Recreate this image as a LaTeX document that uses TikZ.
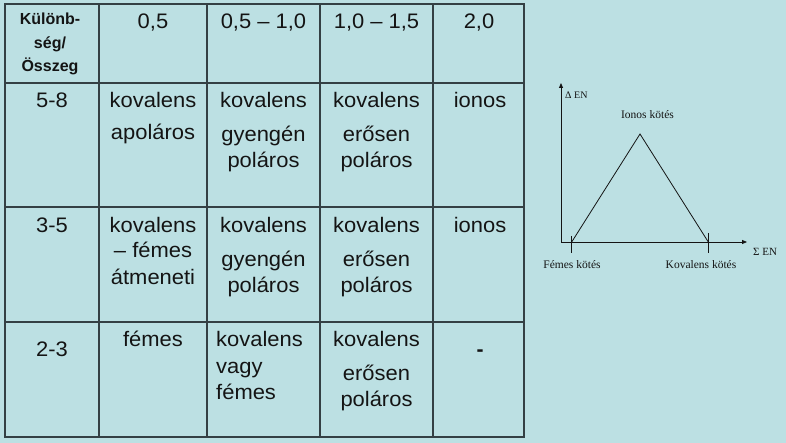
\documentclass[tikz,border=0pt]{standalone}
\usepackage{fontspec}
\setmainfont{Liberation Sans}[FakeStretch=1.045]
\newfontfamily\hdrfont{Liberation Sans}
\newfontfamily\chartfont{Liberation Serif}
\usetikzlibrary{arrows.meta}
\definecolor{bgblue}{RGB}{188,224,227}
\definecolor{gridline}{RGB}{52,64,68}
\definecolor{ink}{RGB}{20,20,20}
\tikzset{
  cell/.style={anchor=base, inner sep=0pt, text=ink, font=\fontsize{21}{25}\selectfont},
  lcell/.style={cell, anchor=base west},
  hdr/.style={anchor=base, inner sep=0pt, text=ink, font=\hdrfont\bfseries\fontsize{16}{19}\selectfont},
  outerline/.style={draw=gridline, line width=2.2pt},
  innerline/.style={draw=gridline, line width=1.6pt},
  axis/.style={draw=ink, line width=0.8pt, -{Triangle[length=5pt,width=4pt]}},
  plotline/.style={draw=ink, line width=0.8pt},
  lbl/.style={inner sep=0pt, text=ink, font=\chartfont\fontsize{11.5}{13}\selectfont}
}
\begin{document}
\begin{tikzpicture}[x=1pt,y=-1pt]
\useasboundingbox (0,0) rectangle (786,443);
\fill[bgblue] (0,0) rectangle (786,443);

% ---- table grid ----
\foreach \xx in {99,207,320,433} {\draw[innerline] (\xx,4) -- (\xx,437);}
\foreach \yy in {83,207,322} {\draw[innerline] (5,\yy) -- (524,\yy);}
\draw[outerline] (5,4) rectangle (524,437);

% ---- header row ----
\node[hdr] (h0a) at (50,25) {Különb-};
\node[hdr] (h0b) at (50,48.5) {ség/};
\node[hdr] (h0c) at (50,72) {Összeg};
\node[cell] (h1) at (153,29) {0,5};
\node[cell] (h2) at (263.5,29) {0,5 – 1,0};
\node[cell] (h3) at (376.5,29) {1,0 – 1,5};
\node[cell] (h4) at (479,29) {2,0};

% ---- row 5-8 ----
\node[cell] (r1c0) at (52,108) {5-8};
\node[cell] (r1c1a) at (153,108) {kovalens};
\node[cell] (r1c1b) at (153,139.5) {apoláros};
\node[cell] (r1c2a) at (263.5,108) {kovalens};
\node[cell] (r1c2b) at (263.5,142) {gyengén};
\node[cell] (r1c2c) at (263.5,168) {poláros};
\node[cell] (r1c3a) at (376.5,108) {kovalens};
\node[cell] (r1c3b) at (376.5,141.5) {erősen};
\node[cell] (r1c3c) at (376.5,168) {poláros};
\node[cell] (r1c4) at (480,108) {ionos};

% ---- row 3-5 ----
\node[cell] (r2c0) at (52,232.7) {3-5};
\node[cell] (r2c1a) at (153,232.7) {kovalens};
\node[cell] (r2c1b) at (153,258) {– fémes};
\node[cell] (r2c1c) at (153,284) {átmeneti};
\node[cell] (r2c2a) at (263.5,232.7) {kovalens};
\node[cell] (r2c2b) at (263.5,266.7) {gyengén};
\node[cell] (r2c2c) at (263.5,292.7) {poláros};
\node[cell] (r2c3a) at (376.5,232.7) {kovalens};
\node[cell] (r2c3b) at (376.5,266.5) {erősen};
\node[cell] (r2c3c) at (376.5,292.7) {poláros};
\node[cell] (r2c4) at (480,232.7) {ionos};

% ---- row 2-3 ----
\node[cell] (r3c0) at (52,356) {2-3};
\node[cell] (r3c1) at (153,346.7) {fémes};
\node[lcell] (r3c2a) at (216,346.7) {kovalens};
\node[lcell] (r3c2b) at (216,373.3) {vagy};
\node[lcell] (r3c2c) at (216,399.5) {fémes};
\node[cell] (r3c3a) at (376.5,346.7) {kovalens};
\node[cell] (r3c3b) at (376.5,380.5) {erősen};
\node[cell] (r3c3c) at (376.5,406.7) {poláros};
\node[cell, font=\hdrfont\bfseries\fontsize{21}{25}\selectfont] (r3c4) at (480,356) {-};

% ---- chart ----
\coordinate (O) at (561,242);
\coordinate (Ytop) at (561,83);
\coordinate (Xend) at (747,242);
\coordinate (F) at (571.7,242);
\coordinate (A) at (640,134);
\coordinate (K) at (708.3,242);
\coordinate (Ft) at (571.7,236);
\coordinate (Fb) at (571.7,253);
\coordinate (Kt) at (708.3,233);
\coordinate (Kb) at (708.3,253);
\draw[axis] (O) -- (Ytop);
\draw[axis] (O) -- (Xend);
\draw[plotline] (F) -- (A) -- (K);
\draw[plotline] (Ft) -- (Fb);
\draw[plotline] (Kt) -- (Kb);
\node[lbl, anchor=base west, font=\chartfont\fontsize{10}{12}\selectfont] (dEN) at (565,99) {Δ EN};
\node[lbl, anchor=base] (ionos) at (647.5,118.3) {Ionos kötés};
\node[lbl, anchor=base west, font=\chartfont\fontsize{11}{13}\selectfont] (sEN) at (753,256) {Σ EN};
\node[lbl, anchor=base] (femes) at (572,269) {Fémes kötés};
\node[lbl, anchor=base] (koval) at (701,269) {Kovalens kötés};
\end{tikzpicture}
\end{document}
